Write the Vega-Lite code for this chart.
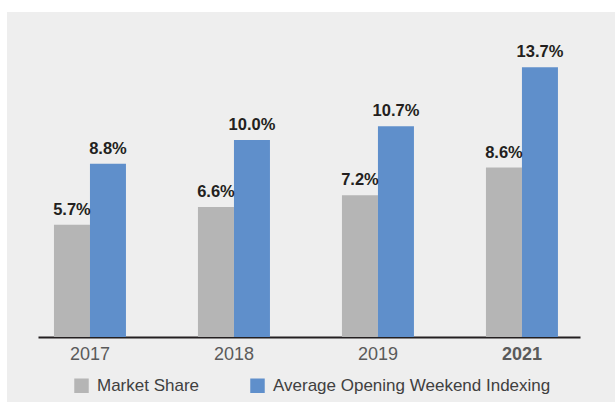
{
  "$schema": "https://vega.github.io/schema/vega-lite/v6.json",
  "width": 608,
  "height": 390,
  "autosize": {"type": "none"},
  "padding": {"left": 7, "top": 12, "right": 0, "bottom": 0},
  "background": "#ffffff",
  "view": {"fill": "#eeeeee", "stroke": null},
  "config": {"font": "Liberation Sans"},
  "data": {
    "values": [
      {"year": "2017", "series": "Market Share", "value": 5.7},
      {"year": "2017", "series": "Average Opening Weekend Indexing", "value": 8.8},
      {"year": "2018", "series": "Market Share", "value": 6.6},
      {"year": "2018", "series": "Average Opening Weekend Indexing", "value": 10.0},
      {"year": "2019", "series": "Market Share", "value": 7.2},
      {"year": "2019", "series": "Average Opening Weekend Indexing", "value": 10.7},
      {"year": "2021", "series": "Market Share", "value": 8.6},
      {"year": "2021", "series": "Average Opening Weekend Indexing", "value": 13.7}
    ]
  },
  "transform": [
    {"calculate": "format(datum.value, '.1f') + '%'", "as": "label"}
  ],
  "encoding": {
    "x": {
      "field": "year",
      "type": "nominal",
      "sort": ["2017", "2018", "2019", "2021"],
      "scale": {"range": [31, 573], "paddingInner": 0.5, "paddingOuter": 0.132, "align": 0.42},
      "axis": {
        "title": null,
        "orient": "bottom",
        "offset": -65,
        "ticks": false,
        "grid": false,
        "domainColor": "#231f20",
        "domainWidth": 2,
        "labelAngle": 0,
        "labelFontSize": 18,
        "labelColor": "#5a5a5a",
        "labelPadding": 8,
        "labelFontWeight": {"condition": {"test": "datum.value == '2021'", "value": "bold"}, "value": "normal"}
      }
    },
    "xOffset": {
      "field": "series",
      "type": "nominal",
      "sort": ["Market Share", "Average Opening Weekend Indexing"],
      "scale": {"paddingInner": 0, "paddingOuter": 0}
    },
    "y": {
      "field": "value",
      "type": "quantitative",
      "scale": {"domain": [0, 16.5], "range": [325, 0], "nice": false, "zero": true},
      "axis": null
    }
  },
  "layer": [
    {
      "mark": {"type": "bar", "clip": false},
      "encoding": {
        "color": {
          "field": "series",
          "type": "nominal",
          "sort": ["Market Share", "Average Opening Weekend Indexing"],
          "scale": {"domain": ["Market Share", "Average Opening Weekend Indexing"], "range": ["#b5b5b5", "#5f8fcb"]},
          "legend": {
            "title": null,
            "orient": "none",
            "direction": "horizontal",
            "legendX": 66,
            "legendY": 365,
            "symbolType": "square",
            "symbolSize": 210,
            "symbolStrokeWidth": 0,
            "symbolOpacity": 1,
            "labelFontSize": 17,
            "labelColor": "#404040",
            "labelOffset": 7,
            "columnPadding": 49,
            "labelLimit": 400
          }
        }
      }
    },
    {
      "mark": {"type": "text", "baseline": "alphabetic", "dy": -10, "fontSize": 16.5, "fontWeight": "bold", "color": "#231f20"},
      "encoding": {
        "text": {"field": "label"}
      }
    }
  ]
}
